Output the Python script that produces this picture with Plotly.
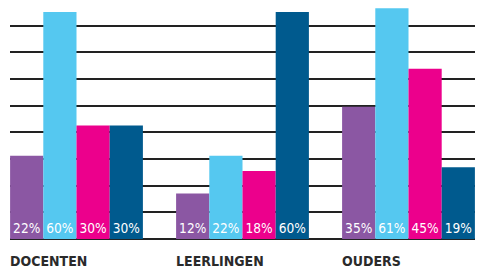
import plotly.graph_objects as go

groups = ["DOCENTEN", "LEERLINGEN", "OUDERS"]
series_colors = ["#8B57A3", "#55C8F0", "#EC008C", "#005A8E"]
# values per series (one bar colour each), across the three groups
s1 = [22, 12, 35]
s2 = [60, 22, 61]
s3 = [30, 18, 45]
s4 = [30, 60, 19]
series = [s1, s2, s3, s4]

FONT = "DejaVu Sans Condensed, Liberation Sans Narrow, Roboto, sans-serif"

x = list(range(len(groups)))
fig = go.Figure()
for vals, col in zip(series, series_colors):
    fig.add_trace(go.Bar(
        x=x, y=vals, marker=dict(color=col, line=dict(width=0)),
        text=[f"{v}%" for v in vals], textposition="inside",
        insidetextanchor="start", textangle=0,
        textfont=dict(family=FONT, size=14, color="white"),
        hoverinfo="skip",
    ))

for i, g in enumerate(groups):
    fig.add_annotation(x=i - 0.4, y=0, xref="x", yref="paper", text=f"<b>{g}</b>",
                       showarrow=False, xanchor="left", yanchor="top", yshift=-12,
                       xshift=-2,
                       font=dict(family=FONT, size=14, color="#2a2a2a"))

fig.update_layout(
    width=477, height=268,
    margin=dict(l=10, r=2, t=0, b=29),
    barmode="group", bargap=0.2, bargroupgap=0,
    showlegend=False,
    plot_bgcolor="white", paper_bgcolor="white",
)
fig.update_xaxes(range=[-0.4006, 2.4006], showticklabels=False, showgrid=False,
                 zeroline=False, showline=False, ticks="")
fig.update_yaxes(range=[0, 63.2], tick0=0, dtick=7.055, showticklabels=False,
                 showgrid=True, gridcolor="#222222", gridwidth=2,
                 zeroline=True, zerolinecolor="#222222", zerolinewidth=2,
                 showline=False, ticks="")
fig.write_html("out.html", config={"displayModeBar": False},
               post_script="document.body.style.margin='0';")
